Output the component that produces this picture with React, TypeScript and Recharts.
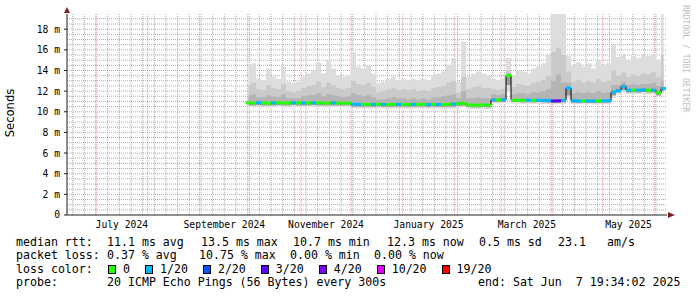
import React from "react";
import {
  ComposedChart,
  Area,
  Line,
  Scatter,
  XAxis,
  YAxis,
  CartesianGrid,
  ReferenceDot,
} from "recharts";

const DAY = 86400000;
// 360 day window, as smokeping draws it
const rangeEnd = Date.UTC(2025, 5, 8, 14, 0);
const rangeStart = rangeEnd - 360 * DAY;
const firstSample = Date.UTC(2024, 8, 30, 12, 0);
const sampleStepDays = 3;

// values in ms, one per 3 days
const medianRtt = [
  10.86, 10.84, 10.88, 10.85, 10.83, 10.86, 10.87, 10.84, 10.85, 10.88, 10.86, 10.84, 10.85, 10.87, 10.86, 10.85, 10.84, 10.86, 10.85, 10.83, 10.84,
  10.74, 10.72, 10.73, 10.71, 10.72, 10.74, 10.71, 10.7, 10.72, 10.73, 10.71, 10.7, 10.72, 10.71, 10.73, 10.7, 10.72, 10.71, 10.7, 10.72, 10.74, 10.8,
  10.84, 10.66, 10.65, 10.65, 10.66, 10.65,
  11.16, 11.15, 11.18, 13.5, 11.12, 11.12, 11.1, 11.12, 11.1, 11.12, 11.1, 11.1,
  11.05, 11.06, 11.1,
  12.3,
  11.06, 11.05, 11.06, 11.05, 11.04, 11.05, 11.06, 11.08,
  11.9, 12.05, 12.45, 12.1, 12.08, 12.1, 12.12, 12.08, 12.1, 11.85, 12.25,
];
const smokeMax = [
  14.5, 14.7, 13.2, 13.05, 14.2, 13.4, 13.2, 14.35, 12.9, 12.75,
  12.9, 13.4, 13.7, 14.0, 14.8, 13.7, 15.0, 14.2, 13.55, 13.4,
  13.55, 15.8, 14.35, 14.2, 14.5, 13.7, 12.75, 12.9, 13.2, 13.4,
  13.05, 13.2, 13.05, 13.2, 13.05, 13.2, 13.05, 13.55, 13.7, 13.9,
  14.5, 15.2, 12.9, 16.8, 13.4, 13.7, 13.9, 13.7, 13.55, 13.2,
  13.05, 13.2, 15.2, 13.55, 14.0, 13.9, 13.7, 14.2, 14.35, 14.7,
  15.5, 19.6, 19.6, 19.6, 15.4, 14.5, 14.8, 14.35, 14.7, 14.2,
  15.0, 14.5, 14.7, 16.5, 15.3, 15.6, 15.0, 15.4, 15.2, 15.5,
  15.4, 15.6, 15.0, 19.6,
];
const smokeHigh = [
  12.6, 12.8, 12.2, 12.1, 12.6, 12.3, 12.2, 12.7, 12.0, 11.9, 12.0, 12.3, 12.5, 12.6, 12.9, 12.4, 12.8, 12.6, 12.3, 12.2, 12.3,
  13.0, 12.7, 12.6, 12.8, 12.4, 11.9, 12.0, 12.2, 12.3, 12.1, 12.2, 12.1, 12.2, 12.0, 12.1, 12.0, 12.3, 12.4, 12.5, 12.8, 13.0, 11.9,
  13.4, 12.2, 12.4, 12.5, 12.3, 12.3,
  12.2, 12.1, 12.2, 14.0, 12.4, 12.7, 12.6, 12.5, 12.8, 12.9, 13.1,
  13.5, 15.8, 16.2, 15.5,
  13.9, 12.9, 13.1, 12.8, 13.0, 12.8, 13.2, 12.9, 13.0,
  14.0, 13.5, 13.8, 13.4, 13.6, 13.5, 13.7, 13.6, 13.8, 13.4, 15.5,
];
const smokeUpper = [
  11.6, 11.7, 11.4, 11.4, 11.6, 11.5, 11.4, 11.7, 11.3, 11.3, 11.3, 11.5, 11.6, 11.6, 11.8, 11.5, 11.7, 11.6, 11.5, 11.4, 11.5,
  11.8, 11.6, 11.5, 11.6, 11.4, 11.2, 11.2, 11.3, 11.4, 11.3, 11.3, 11.2, 11.3, 11.2, 11.3, 11.2, 11.4, 11.4, 11.5, 11.6, 11.7, 11.3,
  12.0, 11.3, 11.3, 11.4, 11.3, 11.3,
  11.7, 11.6, 11.7, 13.7, 11.7, 11.8, 11.8, 11.7, 11.9, 11.9, 12.0,
  12.2, 13.0, 13.6, 12.8,
  12.8, 11.8, 11.9, 11.8, 11.9, 11.8, 12.0, 11.8, 11.9,
  12.6, 12.6, 12.9, 12.6, 12.7, 12.6, 12.7, 12.7, 12.8, 12.5, 13.0,
];
const smokeLow = [
  10.64, 10.62, 10.66, 10.64, 10.62, 10.64, 10.66, 10.62, 10.64, 10.66, 10.64, 10.62, 10.63, 10.65, 10.64, 10.63, 10.62, 10.64, 10.63, 10.62, 10.62,
  10.52, 10.5, 10.52, 10.5, 10.5, 10.53, 10.5, 10.49, 10.5, 10.52, 10.5, 10.49, 10.5, 10.5, 10.52, 10.49, 10.5, 10.5, 10.49, 10.5, 10.52, 10.58,
  10.6, 10.45, 10.44, 10.44, 10.45, 10.44,
  10.98, 10.97, 10.98, 12.6, 10.95, 10.94, 10.93, 10.95, 10.93, 10.94, 10.92,
  10.9, 10.88, 10.9, 10.92,
  11.6, 10.9, 10.88, 10.9, 10.88, 10.87, 10.88, 10.9, 10.9,
  11.6, 11.88, 12.1, 11.9, 11.88, 11.9, 11.92, 11.88, 11.9, 11.6, 12.0,
];
const smokeMin = [
  10.46, 10.44, 10.48, 10.45, 10.43, 10.46, 10.47, 10.44, 10.45, 10.48, 10.46, 10.44, 10.45, 10.47, 10.46, 10.45, 10.44, 10.46, 10.45, 10.43, 10.44,
  10.34, 10.32, 10.33, 10.31, 10.32, 10.34, 10.31, 10.3, 10.32, 10.33, 10.31, 10.3, 10.32, 10.31, 10.33, 10.3, 10.32, 10.31, 10.3, 10.32, 10.34, 10.4,
  10.44, 10.28, 10.26, 10.25, 10.26, 10.25,
  10.82, 10.8, 10.83, 12.0, 10.78, 10.77, 10.76, 10.78, 10.76, 10.77, 10.75,
  10.72, 10.7, 10.72, 10.75,
  11.2, 10.74, 10.72, 10.74, 10.72, 10.7, 10.72, 10.74, 10.74,
  11.3, 11.7, 11.9, 11.72, 11.7, 11.72, 11.75, 11.7, 11.72, 11.4, 11.8,
];
// index into lossLabels / lossColors
const lossBucket = [
  0, 0, 1, 0, 0, 1, 0, 0, 0, 1,
  0, 1, 0, 1, 0, 0, 0, 1, 0, 0,
  0, 1, 1, 0, 0, 1, 0, 1, 0, 0,
  1, 0, 0, 1, 0, 0, 1, 0, 1, 0,
  0, 1, 0, 0, 0, 0, 0, 0, 0, 1,
  0, 1, 0, 0, 0, 0, 1, 0, 1, 1,
  1, 3, 3, 1, 1, 1, 1, 0, 1, 1,
  0, 1, 1, 1, 1, 1, 1, 0, 1, 1,
  0, 1, 0, 1,
];

const lossLabels = ["0", "1/20", "2/20", "3/20", "4/20", "10/20", "19/20"];
const lossColors = ["#26ff00", "#00b8ff", "#0059ff", "#5e00ff", "#7e00ff", "#dd00ff", "#ff0000"];

const valueTicks = [0, 2, 4, 6, 8, 10, 12, 14, 16, 18];
const axisMonths: [number, number, string][] = [
  [2024, 6, "July 2024"],
  [2024, 8, "September 2024"],
  [2024, 10, "November 2024"],
  [2025, 0, "January 2025"],
  [2025, 2, "March 2025"],
  [2025, 4, "May 2025"],
];

const yMax = 19.47;
const mono = "'DejaVu Sans Mono', monospace";

const rows = medianRtt.map((m, i) => ({
  t: firstSample + i * sampleStepDays * DAY,
  outer: [smokeMin[i], smokeMax[i]],
  mid: [smokeLow[i], smokeHigh[i]],
  inner: [smokeLow[i], smokeUpper[i]],
  under: [smokeLow[i], m],
  median: m,
  loss: lossBucket[i],
}));

// labels sit in the middle of their month
const labelTicks = axisMonths.map(([y, m]) => (Date.UTC(y, m, 1) + Date.UTC(y, m + 1, 1)) / 2);
const formatMonth = (v: number) => {
  const i = labelTicks.indexOf(v);
  return i >= 0 ? axisMonths[i][2] : "";
};

// grid lines
const weekLines: number[] = [];
for (let t = Date.UTC(2024, 5, 17); t < rangeEnd; t += 7 * DAY) weekLines.push(t);
const monthLines: number[] = [];
for (let m = 6; m <= 17; m++) monthLines.push(Date.UTC(2024, m, 1));
const minorValues: number[] = [];
for (let v = 0.5; v < yMax; v += 0.5) if (v % 2 !== 0) minorValues.push(v);
const majorValues = valueTicks.filter((v) => v > 0);

const MedianMark = (props: any) => {
  const { cx, cy, payload } = props;
  if (cx == null || cy == null) return null;
  return <rect x={cx - 2.5} y={cy - 1.5} width={5} height={3} fill={lossColors[payload.loss]} />;
};

const ArrowRight = (props: any) => {
  const { cx, cy } = props;
  return <polygon points={`${cx + 1},${cy - 3} ${cx + 8},${cy} ${cx + 1},${cy + 3}`} fill="#801f1f" />;
};
const ArrowUp = (props: any) => {
  const { cx, cy } = props;
  return <polygon points={`${cx - 3},${cy - 1} ${cx},${cy - 7} ${cx + 3},${cy - 1}`} fill="#801f1f" />;
};

const lineStyle: React.CSSProperties = {
  position: "absolute",
  whiteSpace: "pre",
  fontFamily: mono,
  fontSize: 11.6,
  lineHeight: "14px",
  color: "#000",
};

export default function App() {
  return (
    <div style={{ position: "absolute", left: 0, top: 0, width: 697, height: 297, background: "#fff", overflow: "hidden" }}>
      <ComposedChart width={697} height={297} data={rows} margin={{ top: 14, right: 30, bottom: 62, left: 0 }}>
        <XAxis
          dataKey="t"
          type="number"
          domain={[rangeStart, rangeEnd]}
          allowDataOverflow
          ticks={labelTicks}
          interval={0}
          tickFormatter={formatMonth}
          tickLine={false}
          tickSize={0}
          tickMargin={6}
          height={20}
          axisLine={{ stroke: "#1f1f1f" }}
          tick={{ fontFamily: mono, fontSize: 9.7, fill: "#000" }}
        />
        <YAxis
          type="number"
          domain={[0, yMax]}
          allowDataOverflow
          ticks={valueTicks}
          interval={0}
          tickFormatter={(v: number) => (v === 0 ? "0" : `${v} m`)}
          width={67}
          tickSize={3}
          tickMargin={4}
          axisLine={{ stroke: "#1f1f1f" }}
          tickLine={{ stroke: "#1f1f1f" }}
          tick={{ fontFamily: mono, fontSize: 9.7, fill: "#000" }}
        />

        <Area dataKey="outer" type="step" stroke="none" fill="#dddddd" fillOpacity={1} isAnimationActive={false} dot={false} activeDot={false} />
        <Area dataKey="mid" type="step" stroke="none" fill="#cacaca" fillOpacity={1} isAnimationActive={false} dot={false} activeDot={false} />
        <Area dataKey="inner" type="step" stroke="none" fill="#b4b4b4" fillOpacity={1} isAnimationActive={false} dot={false} activeDot={false} />
        <Area dataKey="under" type="step" stroke="none" fill="#9c9c9c" fillOpacity={1} isAnimationActive={false} dot={false} activeDot={false} />

        <CartesianGrid
          horizontalValues={minorValues}
          verticalValues={weekLines}
          stroke="rgba(143,143,143,0.75)"
          strokeDasharray="1 1"
          fill="none"
        />
        <CartesianGrid
          horizontalValues={majorValues}
          verticalValues={monthLines}
          stroke="rgba(222,79,79,0.6)"
          strokeDasharray="1 1"
          fill="none"
        />

        <Line dataKey="median" type="step" stroke="#000" strokeWidth={1} dot={false} activeDot={false} isAnimationActive={false} />
        <Scatter dataKey="median" shape={<MedianMark />} isAnimationActive={false} />

        <ReferenceDot x={rangeEnd} y={0} r={0} ifOverflow="visible" shape={<ArrowRight />} />
        <ReferenceDot x={rangeStart} y={yMax} r={0} ifOverflow="visible" shape={<ArrowUp />} />
      </ComposedChart>

      <div
        style={{
          position: "absolute",
          left: 10,
          top: 113,
          transform: "translate(-50%, -50%) rotate(-90deg)",
          fontFamily: "'DejaVu Sans', sans-serif",
          fontSize: 11.6,
          whiteSpace: "nowrap",
        }}
      >
        Seconds
      </div>

      <div
        style={{
          position: "absolute",
          left: 681,
          top: 5,
          writingMode: "vertical-rl",
          fontFamily: mono,
          fontSize: 8.1,
          lineHeight: "10px",
          color: "#bdbdbd",
          whiteSpace: "nowrap",
        }}
      >
        RRDTOOL / TOBI OETIKER
      </div>

      <div style={{ ...lineStyle, top: 234.7, left: 16 }}>median rtt:</div>
      <div style={{ ...lineStyle, top: 234.7, left: 107 }}>11.1 ms avg</div>
      <div style={{ ...lineStyle, top: 234.7, left: 201 }}>13.5 ms max</div>
      <div style={{ ...lineStyle, top: 234.7, left: 293 }}>10.7 ms min</div>
      <div style={{ ...lineStyle, top: 234.7, left: 387 }}>12.3 ms now</div>
      <div style={{ ...lineStyle, top: 234.7, left: 479 }}>0.5 ms sd</div>
      <div style={{ ...lineStyle, top: 234.7, left: 558 }}>23.1</div>
      <div style={{ ...lineStyle, top: 234.7, left: 607 }}>am/s</div>

      <div style={{ ...lineStyle, top: 248, left: 16 }}>packet loss:</div>
      <div style={{ ...lineStyle, top: 248, left: 107 }}>0.37 % avg</div>
      <div style={{ ...lineStyle, top: 248, left: 199 }}>10.75 % max</div>
      <div style={{ ...lineStyle, top: 248, left: 290 }}>0.00 % min</div>
      <div style={{ ...lineStyle, top: 248, left: 374 }}>0.00 % now</div>

      <div style={{ ...lineStyle, top: 262, left: 16 }}>loss color:</div>
      <div style={{ ...lineStyle, top: 262, left: 108, display: "flex", alignItems: "center" }}>
        {lossLabels.map((lab, i) => (
          <span key={lab} style={{ display: "inline-flex", alignItems: "center", marginRight: 15 }}>
            <span
              style={{
                display: "inline-block",
                width: 6,
                height: 7,
                border: "1px solid #000",
                background: lossColors[i],
                marginRight: 7,
              }}
            />
            {lab}
          </span>
        ))}
      </div>

      <div style={{ ...lineStyle, top: 275.3, left: 16 }}>probe:</div>
      <div style={{ ...lineStyle, top: 275.3, left: 107 }}>20 ICMP Echo Pings (56 Bytes) every 300s</div>
      <div style={{ ...lineStyle, top: 275.3, left: 478 }}>end: Sat Jun  7 19:34:02 2025</div>
    </div>
  );
}
